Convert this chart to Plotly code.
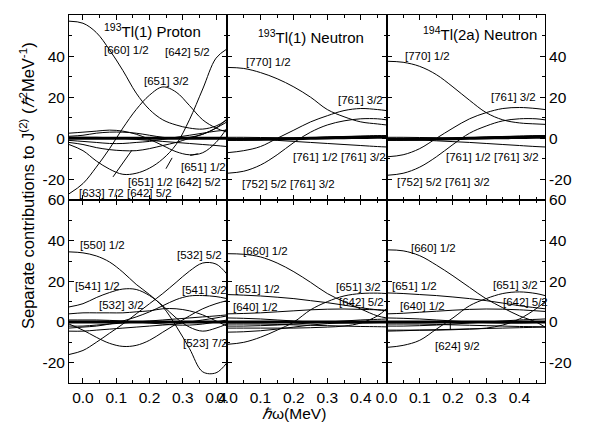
import plotly.graph_objects as go

# ---------------- data ----------------
xL = [-0.042, 0, 0.04, 0.08, 0.12, 0.16, 0.2, 0.24, 0.28, 0.32, 0.36, 0.4, 0.433]
xR = [0, 0.05, 0.1, 0.15, 0.2, 0.25, 0.3, 0.35, 0.4, 0.45, 0.477]
x_ticks = [0.0, 0.1, 0.2, 0.3, 0.4]
x_tick_text = ["0.0", "0.1", "0.2", "0.3", "0.4"]
y_ticks = [-20, 0, 20, 40, 60]
y_tick_text = ["-20", "0", "20", "40", "60"]

# Top-left: 193Tl(1) proton
tl_660_12 = [57, 56, 51.5, 43, 33, 22, 14, 9, 6.5, 5, 4.5, 6, 9]
tl_651_32 = [-27, -22, -14, -5, 5, 14, 21, 25, 22.5, 16, 9, 5, 3]
tl_642_52 = [-3, -6, -11, -15, -17.5, -17, -14.5, -10, -3, 9, 24, 39, 43.5]
tl_651_12 = [2.5, 3, 3.5, 4, 3.5, 2, -0.5, -3.5, -6.5, -8, -7, -2, 5]
tl_633_72 = [-2, -3, -4.5, -5.5, -6, -6, -5, -3.5, -2, 0, 2, 5, 8]
tl_s3 = [1, 1.5, 2.5, 3, 3, 2.5, 1.5, 0.5, 0, 0.5, 2, 5, 9.5]
tl_s4 = [-1, -1.5, -2, -2.5, -2.5, -2, -1.5, -0.5, 0.5, 1.5, 2.5, 3.5, 4]
tl_s5 = [0.5, 0.5, 0.5, 0.3, 0, -0.5, -1, -1.5, -2, -2.5, -3, -3.5, -4]
tl_bold = [0, 0, 0, 0, 0, 0, 0, 0, 0, 0, 0, 0, 0]

# Top-middle: 193Tl(1) neutron
tm_770_12 = [34.5, 34, 32, 29, 25, 20, 14, 10.5, 8, 7, 6.5]
tm_761_32a = [-7, -6, -4, 0, 4, 8, 11, 13.5, 14.5, 14, 13.5]
tm_761_32b = [-17, -16, -13, -8, -2, 3, 6.5, 8.5, 9.5, 9.5, 9]
tm_761_12 = [0, -0.2, -0.5, -1, -1.5, -2, -2.5, -3, -3.5, -4, -4.2]
tm_s1 = [-1, -1, -0.8, -0.5, 0, 0.3, 0.6, 0.9, 1.1, 1.3, 1.3]
tm_s2 = [0.5, 0.5, 0.4, 0.3, 0.3, 0.4, 0.6, 0.8, 1, 1.2, 1.3]
tm_bold = [-0.5, -0.5, -0.4, -0.3, -0.2, 0, 0.2, 0.3, 0.4, 0.5, 0.5]

# Top-right: 194Tl(2a) neutron
tr_770_12 = [37.5, 37, 35, 31, 25, 18.5, 12.5, 9, 7.5, 7, 6.8]
tr_761_32a = [-9, -8, -5, 0, 5, 9.5, 12.5, 14.5, 15, 14.5, 14]
tr_761_32b = [-18, -17, -14, -9, -3, 2.5, 6, 8.5, 9.5, 9.5, 9]
tr_761_12 = [-0.5, -0.6, -0.8, -1.2, -1.6, -2, -2.5, -3, -3.5, -4, -4.2]
tr_s1 = [-1, -1, -0.8, -0.5, 0, 0.3, 0.6, 0.9, 1.1, 1.3, 1.3]
tr_s2 = [0.5, 0.5, 0.4, 0.3, 0.3, 0.4, 0.6, 0.8, 1, 1.2, 1.3]
tr_bold = [-0.5, -0.5, -0.4, -0.3, -0.2, 0, 0.2, 0.3, 0.4, 0.5, 0.5]

# Bottom-left
bl_550_12 = [34.5, 34, 32.5, 29.5, 24.5, 18.5, 13.5, 7.5, -2, -13, -24.5, -25, -20]
bl_532_52 = [-16, -14, -10, -5.5, -1, 4, 9, 14, 19.5, 25, 29, 28.5, 23.5]
bl_541_12 = [7.4, 9, 12, 14.5, 16.2, 16, 13, 8, 2, -2.5, -4.5, -3, -1]
bl_dip = [-1, -4, -7.5, -10.5, -12, -11.5, -9, -5, -1, 3, 6.5, 9, 10.5]
bl_532_32 = [4, 4.5, 4.5, 4.5, 4.5, 5, 5.5, 6.5, 6.5, 5.5, 3.5, 0.5, -2]
bl_541_32 = [-3, -2.5, -2, -1, 0.5, 2.5, 5, 8, 11, 12.8, 13, 12.5, 11.5]
bl_s1 = [-2, -2, -1.5, -1, -0.5, 0, 0.5, 1, 1.5, 2, 2.5, 3, 3.5]
bl_s2 = [1, 1, 1, 0.8, 0.5, 0, -0.5, -1, -1.5, -1.5, -1, 0, 1]
bl_s3 = [-4.5, -4.5, -4, -3.5, -3, -2.5, -2, -1.5, -1, 0, 1, 2, 3]
bl_bold = [0, 0, 0, 0, 0, 0, 0, 0, 0, 0, 0, 0, 0]

# Bottom-middle
bm_660_12 = [33.6, 33.3, 32, 29, 24.7, 19.5, 14, 10, 6.4, 3, 2]
bm_651_32 = [-11, -10, -7.5, -4, 0, 6, 10, 12.8, 14, 14.2, 14]
bm_651_12 = [13.5, 13.2, 12.8, 12.2, 11.5, 10.5, 9.5, 8.3, 7, 6, 5.5]
bm_640_12 = [4, 4.2, 4.5, 5, 5.5, 6, 6.3, 6.4, 6.2, 6, 5.8]
bm_642_52 = [-3, -3, -3, -3, -3, -2.8, -2.5, -2, -0.5, 3, 6.5]
bm_s1 = [-5, -4.8, -4.3, -3.5, -2.5, -1.5, -0.8, -0.3, 0, 0.2, 0.3]
bm_s2 = [2, 1.8, 1.5, 1, 0.5, 0, -0.3, -0.5, -0.5, -0.3, -0.2]
bm_s3 = [-2, -2, -1.8, -1.5, -1, -0.5, 0, 0.5, 1, 1.3, 1.5]
bm_s4 = [-1, -1, -1, -1.2, -1.4, -1.6, -1.8, -2, -2.2, -2.3, -2.4]
bm_bold = [0, 0, 0, 0, 0, 0, 0, 0, 0, 0, 0]

# Bottom-right
br_660_12 = [35.5, 35, 32.6, 28, 22.7, 17, 11.4, 7, 3, 0, -2.5]
br_651_32 = [-12.5, -11.5, -9, -3.5, 2, 8, 11.5, 14, 14.8, 14, 13]
br_651_12 = [14.3, 14, 13.5, 13, 12.3, 11.5, 10.5, 9.3, 8, 7, 6.5]
br_640_12 = [4, 4.3, 4.8, 5.3, 5.8, 6.2, 6.4, 6.3, 6, 5.5, 5.2]
br_642_52 = [-4, -4, -4, -4, -3.8, -3.5, -3, -1.5, 1.5, 6.5, 10]
br_624_92 = [-4.5, -4.3, -4, -3.8, -3.6, -3.4, -3.2, -3, -2.8, -2.6, -2.5]
br_s1 = [2, 1.8, 1.5, 1, 0.5, 0, -0.3, -0.5, -0.5, -0.3, -0.2]
br_s2 = [-2, -2, -1.8, -1.5, -1, -0.5, 0, 0.5, 1, 1.3, 1.5]
br_s3 = [-1, -1, -1, -1.2, -1.4, -1.6, -1.8, -2, -2.2, -2.3, -2.4]
br_bold = [0, 0, 0, 0, 0, 0, 0, 0, 0, 0, 0]

panels = [
    (1, xL, [tl_660_12, tl_651_32, tl_642_52, tl_651_12, tl_633_72, tl_s3, tl_s4, tl_s5], tl_bold),
    (2, xR, [tm_770_12, tm_761_32a, tm_761_32b, tm_761_12, tm_s1, tm_s2], tm_bold),
    (3, xR, [tr_770_12, tr_761_32a, tr_761_32b, tr_761_12, tr_s1, tr_s2], tr_bold),
    (4, xL, [bl_550_12, bl_532_52, bl_541_12, bl_dip, bl_532_32, bl_541_32, bl_s1, bl_s2, bl_s3], bl_bold),
    (5, xR, [bm_660_12, bm_651_32, bm_651_12, bm_640_12, bm_642_52, bm_s1, bm_s2, bm_s3, bm_s4], bm_bold),
    (6, xR, [br_660_12, br_651_32, br_651_12, br_640_12, br_642_52, br_624_92, br_s1, br_s2, br_s3], br_bold),
]

labels = [
    (1, 0.13, 43, "[660] 1/2"), (1, 0.314, 42, "[642] 5/2"), (1, 0.25, 28, "[651] 3/2"),
    (1, 0.362, -14, "[651] 1/2"), (1, 0.276, -21, "[651] 1/2 [642] 5/2"),
    (1, 0.129, -26.8, "[633] 7/2 [642] 5/2"),
    (2, 0.123, 37, "[770] 1/2"), (2, 0.40, 18.5, "[761] 3/2"),
    (2, 0.336, -9.2, "[761] 1/2 [761] 3/2"), (2, 0.183, -22.4, "[752] 5/2 [761] 3/2"),
    (3, 0.122, 40, "[770] 1/2"), (3, 0.381, 20, "[761] 3/2"),
    (3, 0.318, -9.2, "[761] 1/2 [761] 3/2"), (3, 0.171, -21, "[752] 5/2 [761] 3/2"),
    (4, 0.06, 38, "[550] 1/2"), (4, 0.351, 33, "[532] 5/2"), (4, 0.044, 17.8, "[541] 1/2"),
    (4, 0.366, 15.8, "[541] 3/2"), (4, 0.116, 8.4, "[532] 3/2"), (4, 0.369, -10.4, "[523] 7/2"),
    (5, 0.116, 35, "[660] 1/2"), (5, 0.092, 16.3, "[651] 1/2"), (5, 0.086, 7.4, "[640] 1/2"),
    (5, 0.393, 17.3, "[651] 3/2"), (5, 0.402, 9.9, "[642] 5/2"),
    (6, 0.141, 36.5, "[660] 1/2"), (6, 0.084, 17.8, "[651] 1/2"), (6, 0.107, 7.9, "[640] 1/2"),
    (6, 0.389, 18.3, "[651] 3/2"), (6, 0.419, 9.9, "[642] 5/2"), (6, 0.213, -11.9, "[624] 9/2"),
]
titles = [
    (1, 0.21, 52.5, "<sup>193</sup>Tl(1) Proton"),
    (2, 0.252, 49.6, "<sup>193</sup>Tl(1) Neutron"),
    (3, 0.28, 51, "<sup>194</sup>Tl(2a) Neutron"),
]
pointers = [
    (1, 0.087, -19.5, 0.147, -5.8),
    (1, 0.247, -15.5, 0.268, -9.5),
    (1, 0.318, -8.5, 0.345, -7.5),
    (6, 0.192, -4.5, 0.192, -0.5),
]

FONT = "Liberation Sans, Arial, sans-serif"
OFF = 8  # page body margin in the browser

def px_x(p):
    return (p - OFF) / 600

def px_y(p):
    return (432 - (p - OFF)) / 432

fig = go.Figure()
for idx, xg, thin, bold in panels:
    suffix = "" if idx == 1 else str(idx)
    for ys in thin:
        fig.add_trace(go.Scatter(x=xg, y=ys, mode="lines", xaxis="x" + suffix, yaxis="y" + suffix,
                                 line=dict(color="black", width=1, shape="spline"), hoverinfo="skip"))
    fig.add_trace(go.Scatter(x=xg, y=bold, mode="lines", xaxis="x" + suffix, yaxis="y" + suffix,
                             line=dict(color="black", width=3, shape="spline"), hoverinfo="skip"))

xdom = [[px_x(69), px_x(227)], [px_x(227), px_x(386.5)], [px_x(386.5), px_x(545)]]
ydom = [[px_y(200), px_y(15)], [px_y(383), px_y(200)]]
xranges = [[-0.042, 0.433], [0, 0.477], [0, 0.477]]

layout = dict(width=600, height=432, margin=dict(l=0, r=0, t=0, b=0, autoexpand=False),
              paper_bgcolor="white", plot_bgcolor="white", showlegend=False,
              font=dict(family=FONT, color="black"))
for k in range(6):
    r, c = divmod(k, 3)
    idx = k + 1
    suffix = "" if idx == 1 else str(idx)
    layout["xaxis" + suffix] = dict(
        domain=xdom[c], range=xranges[c], anchor="y" + suffix, automargin=False,
        showline=True, linecolor="black", linewidth=1, mirror="ticks",
        ticks="inside", ticklen=5, tickcolor="black",
        tickvals=x_ticks, ticktext=x_tick_text, showticklabels=(r == 1),
        tickfont=dict(size=15.5, family=FONT), showgrid=False, zeroline=False,
        minor=dict(ticks="inside", ticklen=3, dtick=0.05, tick0=0, tickcolor="black", showgrid=False),
    )
    layout["yaxis" + suffix] = dict(
        domain=ydom[r], range=[-30, 60], anchor="x" + suffix, automargin=False,
        showline=True, linecolor="black", linewidth=1, mirror="ticks",
        ticks="inside", ticklen=5, tickcolor="black",
        tickvals=y_ticks, ticktext=y_tick_text, showticklabels=(c != 1),
        side="right" if c == 2 else "left",
        tickfont=dict(size=15.5, family=FONT), showgrid=False, zeroline=False,
        minor=dict(ticks="inside", ticklen=3, dtick=10, tick0=0, tickcolor="black", showgrid=False),
    )

annotations = []
for idx, x, y, t in labels:
    suffix = "" if idx == 1 else str(idx)
    annotations.append(dict(x=x, y=y, xref="x" + suffix, yref="y" + suffix, text=t, showarrow=False,
                            font=dict(size=11.5, family=FONT, color="black"),
                            xanchor="center", yanchor="middle"))
for idx, x, y, t in titles:
    suffix = "" if idx == 1 else str(idx)
    annotations.append(dict(x=x, y=y, xref="x" + suffix, yref="y" + suffix, text=t, showarrow=False,
                            font=dict(size=15, family=FONT, color="black"),
                            xanchor="center", yanchor="middle"))
for idx, x0, y0, x1, y1 in pointers:
    suffix = "" if idx == 1 else str(idx)
    annotations.append(dict(x=x1, y=y1, ax=x0, ay=y0, xref="x" + suffix, yref="y" + suffix,
                            axref="x" + suffix, ayref="y" + suffix, text="", showarrow=True,
                            arrowhead=0, arrowwidth=1, arrowcolor="black", standoff=0, startstandoff=0))
annotations.append(dict(x=px_x(27), y=px_y(186), xref="paper", yref="paper", textangle=-90,
                        text="Separate contributions to J<sup>(2)</sup> (<i>ℏ</i><sup>2</sup>MeV<sup>-1</sup>)",
                        showarrow=False, font=dict(size=16.5, family=FONT, color="black"),
                        xanchor="center", yanchor="middle"))
annotations.append(dict(x=px_x(294), y=px_y(413), xref="paper", yref="paper",
                        text="<i>ℏ</i>ω(MeV)", showarrow=False,
                        font=dict(size=15.5, family=FONT, color="black"),
                        xanchor="center", yanchor="middle"))
layout["annotations"] = annotations

fig.update_layout(**layout)
fig.write_html("out.html")
